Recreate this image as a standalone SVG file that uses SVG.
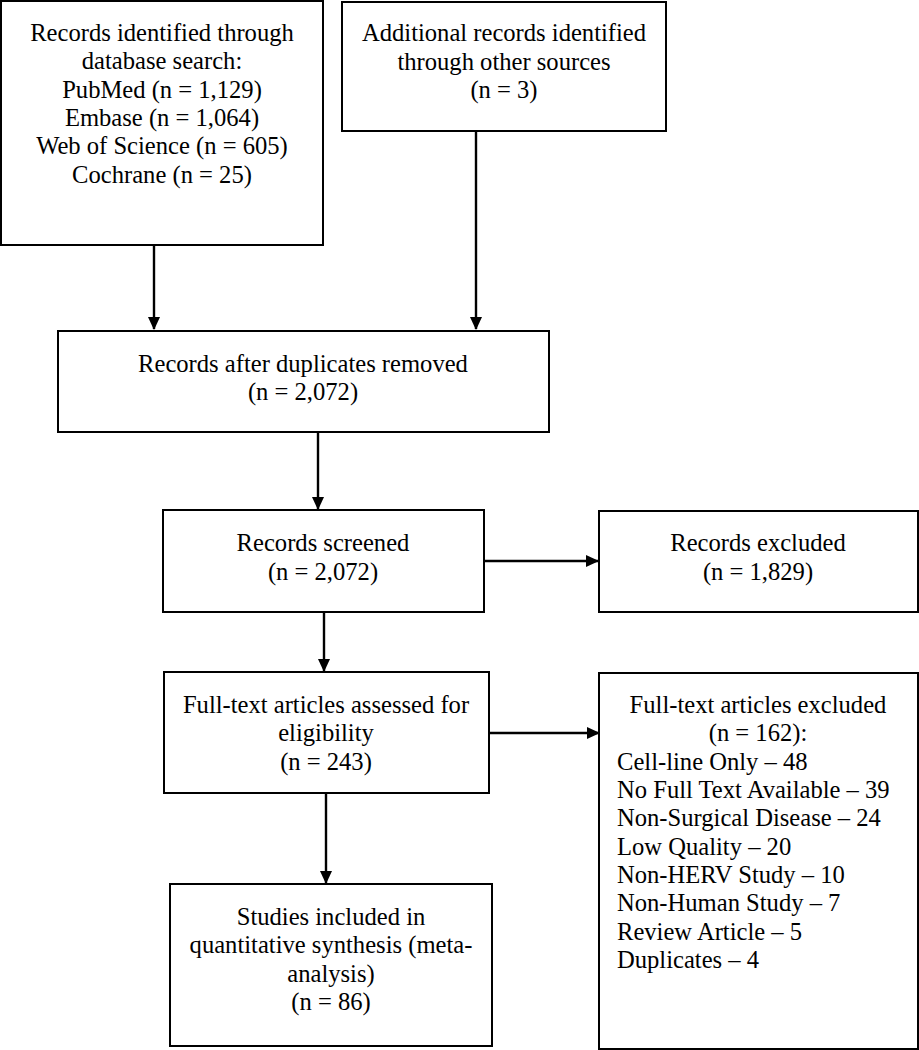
<svg xmlns="http://www.w3.org/2000/svg" width="919" height="1050" viewBox="0 0 919 1050">
<style>
.box{fill:#fff;stroke:#000;stroke-width:2}
.t{font-family:"Liberation Serif","Times New Roman",serif;font-size:24.6px;fill:#000;text-anchor:middle}
.l{text-anchor:start}
.c{stroke:#000;stroke-width:2.4;fill:none}
</style>
<defs>
<marker id="ah" markerWidth="13" markerHeight="12" refX="12" refY="6" orient="auto" markerUnits="userSpaceOnUse">
<path d="M0,0 L13,6 L0,12 Z" fill="#000"/>
</marker>
</defs>
<g id="connectors">
<line class="c" x1="154" y1="246" x2="154" y2="329" marker-end="url(#ah)"/>
<line class="c" x1="476" y1="132" x2="476" y2="329" marker-end="url(#ah)"/>
<line class="c" x1="318" y1="432" x2="318" y2="509" marker-end="url(#ah)"/>
<line class="c" x1="484" y1="561" x2="598" y2="561" marker-end="url(#ah)"/>
<line class="c" x1="324" y1="612" x2="324" y2="671" marker-end="url(#ah)"/>
<line class="c" x1="489" y1="733" x2="599" y2="733" marker-end="url(#ah)"/>
<line class="c" x1="326" y1="793" x2="326" y2="883" marker-end="url(#ah)"/>
</g>
<g id="n1">
<rect class="box" x="1" y="1" width="322" height="244"/>
<text class="t" x="162" y="41">Records identified through</text>
<text class="t" x="162" y="69">database search:</text>
<text class="t" x="162" y="98">PubMed (n = 1,129)</text>
<text class="t" x="162" y="126">Embase (n = 1,064)</text>
<text class="t" x="162" y="154">Web of Science (n = 605)</text>
<text class="t" x="162" y="183">Cochrane (n = 25)</text>
</g>
<g id="n2">
<rect class="box" x="342" y="2" width="324" height="129"/>
<text class="t" x="504" y="41">Additional records identified</text>
<text class="t" x="504" y="70">through other sources</text>
<text class="t" x="504" y="98">(n = 3)</text>
</g>
<g id="n3">
<rect class="box" x="58" y="331" width="491" height="101"/>
<text class="t" x="303" y="372">Records after duplicates removed</text>
<text class="t" x="303" y="400">(n = 2,072)</text>
</g>
<g id="n4">
<rect class="box" x="163" y="510" width="321" height="102"/>
<text class="t" x="323" y="551">Records screened</text>
<text class="t" x="323" y="580">(n = 2,072)</text>
</g>
<g id="n5">
<rect class="box" x="599" y="511" width="319" height="101"/>
<text class="t" x="758" y="551">Records excluded</text>
<text class="t" x="758" y="580">(n = 1,829)</text>
</g>
<g id="n6">
<rect class="box" x="164" y="672" width="325" height="121"/>
<text class="t" x="326" y="713">Full-text articles assessed for</text>
<text class="t" x="326" y="741">eligibility</text>
<text class="t" x="326" y="770">(n = 243)</text>
</g>
<g id="n7">
<rect class="box" x="599" y="673" width="319" height="376"/>
<text class="t" x="758" y="713">Full-text articles excluded</text>
<text class="t" x="758" y="741">(n = 162):</text>
<text class="t l" x="617" y="770">Cell-line Only – 48</text>
<text class="t l" x="617" y="798">No Full Text Available – 39</text>
<text class="t l" x="617" y="826">Non-Surgical Disease – 24</text>
<text class="t l" x="617" y="855">Low Quality – 20</text>
<text class="t l" x="617" y="883">Non-HERV Study – 10</text>
<text class="t l" x="617" y="911">Non-Human Study – 7</text>
<text class="t l" x="617" y="940">Review Article – 5</text>
<text class="t l" x="617" y="968">Duplicates – 4</text>
</g>
<g id="n8">
<rect class="box" x="170" y="884" width="322" height="162"/>
<text class="t" x="331" y="925">Studies included in</text>
<text class="t" x="331" y="953">quantitative synthesis (meta-</text>
<text class="t" x="331" y="982">analysis)</text>
<text class="t" x="331" y="1010">(n = 86)</text>
</g>
</svg>
